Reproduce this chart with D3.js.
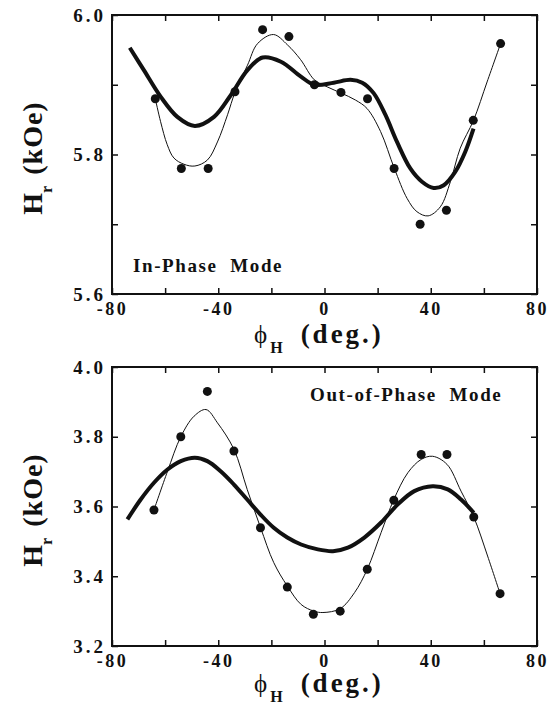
<!DOCTYPE html>
<meta charset="utf-8">
<head>
<script src="https://cdn.jsdelivr.net/npm/d3@7"></script>
<style>
  body { margin: 0; background: #fff; }
  text { font-family: "Liberation Serif", "Times New Roman", serif; font-weight: bold; fill: #111; }
</style>
</head>
<body>
<div id="chart"></div>
<script>

// x axis ticks (deg.)
var phiTicks = [-80, -60, -40, -20, 0, 20, 40, 60, 80];
var phiLabels = [-80, -40, 0, 40, 80];

// In-Phase Mode : measured points
var phiIn = [-63.7, -53.9, -43.8, -33.7, -23.3, -13.4, -3.8, 6.2, 16.2, 26.2, 36.0, 45.9, 56.0, 66.3];
var hrIn  = [5.880, 5.780, 5.780, 5.890, 5.979, 5.969, 5.900, 5.889, 5.880, 5.780, 5.700, 5.720, 5.849, 5.959];
// In-Phase Mode : thin fit through the points
var phiInFit = [-63.7, -61.7, -59.2, -56.7, -52.9, -48.8, -44.1, -40.3, -36.5, -33.7, -29, -25.2, -19.2, -13.9, -9, -3.8, 1, 6.3, 11.7, 16, 21.1, 26.3, 31.1, 34.8, 39, 43.6, 47.4, 51.1, 56.1, 61.2, 66.3];
var hrInFit  = [5.880, 5.847, 5.814, 5.795, 5.786, 5.7835, 5.792, 5.818, 5.857, 5.889, 5.928, 5.959, 5.972, 5.957, 5.936, 5.907, 5.897, 5.888, 5.878, 5.866, 5.833, 5.780, 5.737, 5.718, 5.712, 5.725, 5.761, 5.809, 5.849, 5.904, 5.959];
// In-Phase Mode : thick calculated curve
var phiInCalc = [-73.3, -68, -61.7, -55.4, -48.8, -41.6, -35.3, -29, -23.3, -16.4, -9, -3.8, 3.5, 9.8, 14.2, 18.5, 22.9, 27.3, 32.3, 36.7, 41.1, 44.9, 49.2, 53, 56.1];
var hrInCalc  = [5.953, 5.921, 5.883, 5.854, 5.841, 5.854, 5.885, 5.921, 5.939, 5.933, 5.912, 5.900, 5.903, 5.907, 5.903, 5.888, 5.857, 5.818, 5.780, 5.761, 5.752, 5.756, 5.775, 5.804, 5.837];
var inTicks = [5.6, 5.7, 5.8, 5.9, 6.0];
var inLabels = [5.6, 5.8, 6.0];

// Out-of-Phase Mode : measured points
var phiOut = [-64.2, -54.1, -44.1, -34.1, -24.1, -14.0, -4.2, 5.9, 16.1, 26.1, 36.4, 46.1, 56.2, 66.1];
var hrOut  = [3.590, 3.800, 3.930, 3.759, 3.539, 3.369, 3.291, 3.300, 3.420, 3.618, 3.749, 3.749, 3.570, 3.350];
// Out-of-Phase Mode : thin fit
var phiOutFit = [-64.2, -59.1, -54.1, -49.1, -44.6, -40.3, -34.1, -29.1, -24.1, -19.1, -14, -8.8, -4, -0.6, 5.9, 11.3, 16.1, 21.3, 26.1, 31.4, 36.4, 40.7, 46.1, 51.4, 56.2, 61.4, 66.1];
var hrOutFit  = [3.590, 3.701, 3.800, 3.859, 3.878, 3.840, 3.764, 3.649, 3.540, 3.439, 3.372, 3.319, 3.300, 3.296, 3.307, 3.353, 3.420, 3.525, 3.620, 3.697, 3.735, 3.744, 3.721, 3.644, 3.570, 3.458, 3.350];
// Out-of-Phase Mode : thick calculated curve
var phiOutCalc = [-74.2, -69.2, -64.2, -59.1, -54.1, -48.8, -44.1, -39.1, -34.1, -29.1, -24.1, -19.1, -14, -8.8, -2.5, 3.2, 8.8, 15, 21.3, 27.6, 33.8, 40.7, 46.4, 51.4, 56.2];
var hrOutCalc  = [3.563, 3.620, 3.668, 3.706, 3.730, 3.740, 3.730, 3.701, 3.663, 3.620, 3.577, 3.539, 3.511, 3.491, 3.477, 3.472, 3.482, 3.511, 3.554, 3.606, 3.644, 3.658, 3.649, 3.620, 3.582];
var outTicks = [3.2, 3.4, 3.6, 3.8, 4.0];
var outLabels = [3.2, 3.4, 3.6, 3.8, 4.0];

var W = 558, H = 706;
var svg = d3.select("#chart").append("svg")
    .attr("width", W)
    .attr("height", H);
svg.append("rect").attr("width", W).attr("height", H).attr("fill", "#fff");

var left = 112, right = 537;
var x = d3.scaleLinear().domain([-80, 80]).range([left, right]);

function zip(a, b) { return a.map(function (v, i) { return [v, b[i]]; }); }

function panel(cfg) {
  var y = d3.scaleLinear().domain(cfg.yDomain).range([cfg.bottom, cfg.top]);
  var g = svg.append("g");

  // bottom axis with labels
  g.append("g")
    .attr("transform", "translate(0," + cfg.bottom + ")")
    .call(d3.axisBottom(x).tickValues(phiTicks).tickSize(-6).tickPadding(cfg.xPad)
      .tickFormat(function (d) { return phiLabels.indexOf(d) >= 0 ? String(d) : ""; }))
    .attr("font-size", 18)
    .attr("font-family", null)
    .call(function (a) { a.select(".domain").remove(); })
    .selectAll("text").style("letter-spacing", "2.5px");

  // top axis, ticks only
  g.append("g")
    .attr("transform", "translate(0," + cfg.top + ")")
    .call(d3.axisTop(x).tickValues(phiTicks).tickSize(-6).tickFormat(""))
    .call(function (a) { a.select(".domain").remove(); });

  // left axis with labels
  g.append("g")
    .attr("transform", "translate(" + left + ",0)")
    .call(d3.axisLeft(y).tickValues(cfg.yTicks).tickSize(-6).tickPadding(6)
      .tickFormat(function (d) { return cfg.yLabels.indexOf(d) >= 0 ? d3.format(".1f")(d) : ""; }))
    .attr("font-size", 19)
    .attr("font-family", null)
    .call(function (a) { a.select(".domain").remove(); })
    .selectAll("text").style("letter-spacing", "3px");

  // right axis, ticks only
  g.append("g")
    .attr("transform", "translate(" + right + ",0)")
    .call(d3.axisRight(y).tickValues(cfg.yTicks).tickSize(-6).tickFormat(""))
    .call(function (a) { a.select(".domain").remove(); });

  g.selectAll(".tick line").attr("stroke", "#111").attr("stroke-width", 1.5);

  // frame
  g.append("rect")
    .attr("x", left).attr("y", cfg.top)
    .attr("width", right - left).attr("height", cfg.bottom - cfg.top)
    .attr("fill", "none").attr("stroke", "#111").attr("stroke-width", 2);

  var line = d3.line()
    .x(function (d) { return x(d[0]); })
    .y(function (d) { return y(d[1]); })
    .curve(d3.curveCatmullRom.alpha(0.5));

  // thin fit
  g.append("path")
    .datum(zip(cfg.fitPhi, cfg.fitHr))
    .attr("d", line)
    .attr("fill", "none").attr("stroke", "#111").attr("stroke-width", 1);

  // thick curve
  g.append("path")
    .datum(zip(cfg.calcPhi, cfg.calcHr))
    .attr("d", line)
    .attr("fill", "none").attr("stroke", "#111").attr("stroke-width", 4);

  // data points
  g.selectAll("circle.pt")
    .data(zip(cfg.phi, cfg.hr))
    .enter().append("circle")
    .attr("class", "pt")
    .attr("cx", function (d) { return x(d[0]); })
    .attr("cy", function (d) { return y(d[1]); })
    .attr("r", 4.5)
    .attr("fill", "#111");

  // mode label
  g.append("text")
    .attr("x", cfg.modeX).attr("y", cfg.modeY)
    .attr("font-size", 19)
    .style("letter-spacing", "1.6px")
    .style("white-space", "pre")
    .text(cfg.mode);

  // y axis label  H_r (kOe)
  var yl = g.append("text")
    .attr("transform", "translate(42," + cfg.yLabelY + ") rotate(-90)")
    .attr("text-anchor", "middle")
    .attr("font-size", 28);
  yl.append("tspan").text("H");
  yl.append("tspan").attr("font-size", 16).attr("dy", 10).text("r");
  yl.append("tspan").attr("dy", -10).attr("dx", 11).style("letter-spacing", "1px").text("(kOe)");

  // x axis label  phi_H (deg.)
  var xl = g.append("text")
    .attr("x", 254).attr("y", cfg.xLabelY)
    .attr("font-size", 27);
  xl.append("tspan").attr("font-size", 25).style("font-weight", "normal").text("\u03d5");
  xl.append("tspan").attr("font-size", 16).attr("dy", 10).attr("dx", 3).text("H");
  xl.append("tspan").attr("dy", -10).attr("dx", 18).style("letter-spacing", "3px").text("(deg.)");
}

panel({
  top: 15, bottom: 294, yDomain: [5.6, 6.0], yTicks: inTicks, yLabels: inLabels,
  xPad: 8, phi: phiIn, hr: hrIn, fitPhi: phiInFit, fitHr: hrInFit,
  calcPhi: phiInCalc, calcHr: hrInCalc,
  mode: "In-Phase  Mode", modeX: 133, modeY: 272,
  yLabelY: 158, xLabelY: 343
});

panel({
  top: 367, bottom: 646, yDomain: [3.2, 4.0], yTicks: outTicks, yLabels: outLabels,
  xPad: 8, phi: phiOut, hr: hrOut, fitPhi: phiOutFit, fitHr: hrOutFit,
  calcPhi: phiOutCalc, calcHr: hrOutCalc,
  mode: "Out-of-Phase  Mode", modeX: 310, modeY: 401,
  yLabelY: 510, xLabelY: 692
});

</script>
</body>
